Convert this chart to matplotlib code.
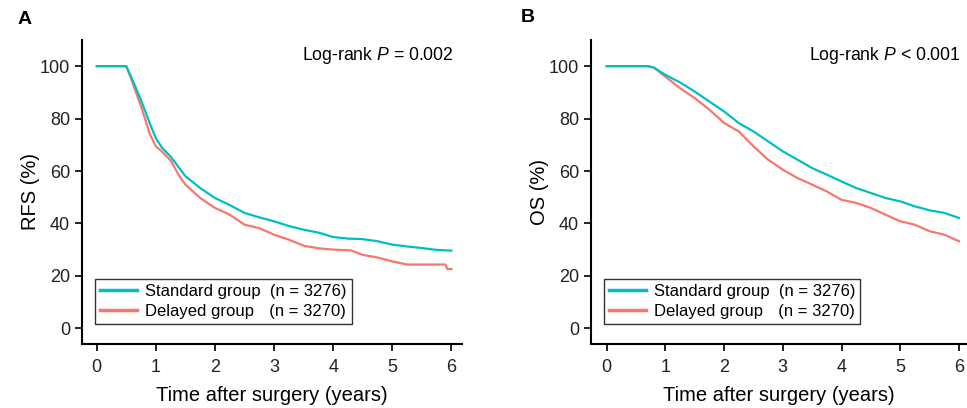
import numpy as np
import matplotlib.pyplot as plt

plt.rcParams['font.family'] = ['Liberation Sans', 'DejaVu Sans']
plt.rcParams['mathtext.fontset'] = 'custom'
plt.rcParams['mathtext.it'] = 'Liberation Sans:italic'
plt.rcParams['mathtext.rm'] = 'Liberation Sans'

# curve values (years, %)
rfs_t_std = [0, 0.5, 0.6, 0.75, 0.9, 1.0, 1.1, 1.25, 1.4, 1.5, 1.75, 2.0, 2.25, 2.5, 2.75, 3.0, 3.25, 3.5, 3.75, 4.0, 4.25, 4.5, 4.75, 5.0, 5.25, 5.5, 5.75, 6.0]
rfs_std = [100, 100, 95, 87, 78, 72.5, 69, 65.5, 61, 58, 53.5, 49.7, 47, 44, 42.3, 40.8, 39, 37.6, 36.5, 34.8, 34.2, 34, 33.2, 31.9, 31.2, 30.6, 29.9, 29.6]
rfs_t_del = [0, 0.5, 0.6, 0.75, 0.9, 1.0, 1.1, 1.25, 1.4, 1.5, 1.75, 2.0, 2.25, 2.5, 2.75, 3.0, 3.25, 3.5, 3.75, 4.0, 4.3, 4.5, 4.75, 5.0, 5.25, 5.5, 5.9, 5.93, 6.0]
rfs_del = [100, 100, 94, 84.6, 74, 69.4, 67.5, 64, 58, 54.8, 49.7, 45.9, 43.3, 39.5, 38.2, 35.7, 33.8, 31.5, 30.5, 30, 29.7, 28, 27, 25.5, 24.3, 24.3, 24.3, 22.6, 22.6]

os_t_std = [0, 0.7, 0.8, 1.0, 1.25, 1.5, 1.75, 2.0, 2.25, 2.5, 2.75, 3.0, 3.25, 3.5, 3.75, 4.0, 4.25, 4.5, 4.75, 5.0, 5.25, 5.5, 5.75, 6.0]
os_std = [100, 100, 99.5, 96.7, 93.8, 90.3, 86.5, 82.7, 78.3, 75.1, 71.3, 67.5, 64.3, 61.1, 58.6, 56, 53.5, 51.6, 49.7, 48.4, 46.5, 45, 44, 42.1]
os_t_del = [0, 0.7, 0.8, 1.0, 1.25, 1.5, 1.75, 2.0, 2.25, 2.5, 2.75, 3.0, 3.25, 3.5, 3.75, 4.0, 4.25, 4.5, 4.75, 5.0, 5.25, 5.5, 5.75, 6.0]
os_del = [100, 100, 99.5, 96, 91.6, 87.8, 83.4, 78.3, 75.1, 69.4, 64.3, 60.5, 57.3, 54.8, 52.2, 49, 47.8, 45.9, 43.3, 40.8, 39.5, 37, 35.7, 33.2]

teal = '#00BFC4'
salmon = '#F8766D'
lab_std = 'Standard group  (n = 3276)'
lab_del = 'Delayed group   \u200a(n = 3270)'

fig = plt.figure(figsize=(9.67, 4.08), dpi=100)
axA = fig.add_axes([0.0848, 0.157, 0.393, 0.745])
axB = fig.add_axes([0.611, 0.157, 0.388, 0.745])

panels = [
    (axA, rfs_t_std, rfs_std, rfs_t_del, rfs_del, 'RFS (%)', r'Log-rank $P$ = 0.002', (-0.25, 6.18)),
    (axB, os_t_std, os_std, os_t_del, os_del, 'OS (%)', r'Log-rank $P$ < 0.001', (-0.27, 6.12)),
]

for ax, ts, ys, td, yd, ylab, ptxt, xl in panels:
    ax.plot(ts, ys, color=teal, lw=1.6, label=lab_std, zorder=3)
    ax.plot(td, yd, color=salmon, lw=1.6, label=lab_del, zorder=2)
    ax.set_xlim(*xl)
    ax.set_ylim(-6, 110)
    ax.set_xticks(range(0, 7))
    ax.set_yticks([0, 20, 40, 60, 80, 100])
    ax.spines['top'].set_visible(False)
    ax.spines['right'].set_visible(False)
    for s in ['left', 'bottom']:
        ax.spines[s].set_linewidth(1.5)
    ax.tick_params(axis='both', labelsize=13, length=5, width=1.2, color='black', labelcolor='#222222')
    ax.tick_params(axis='x', pad=6)
    ax.set_xlabel('Time after surgery (years)', fontsize=14.5, labelpad=7)
    ax.set_ylabel(ylab, fontsize=14.5, labelpad=0)
    ax.text(6.03, 104, ptxt, ha='right', va='center', fontsize=12.7)
    leg = ax.legend(loc='upper left', bbox_to_anchor=(0.035, 0.215), fontsize=12, frameon=True,
                    fancybox=False, edgecolor='black', handlelength=2.2, handletextpad=0.5,
                    borderpad=0.3, labelspacing=0.3, borderaxespad=0)
    leg.get_frame().set_linewidth(1.0)
    for line in leg.get_lines():
        line.set_linewidth(2.5)

fig.text(18 / 967, 1 - 20 / 408, 'A', fontsize=14, fontweight='bold', va='center', ha='left')
fig.text(521 / 967, 1 - 17 / 408, 'B', fontsize=14, fontweight='bold', va='center', ha='left')

fig.savefig('out.png', dpi=100)
